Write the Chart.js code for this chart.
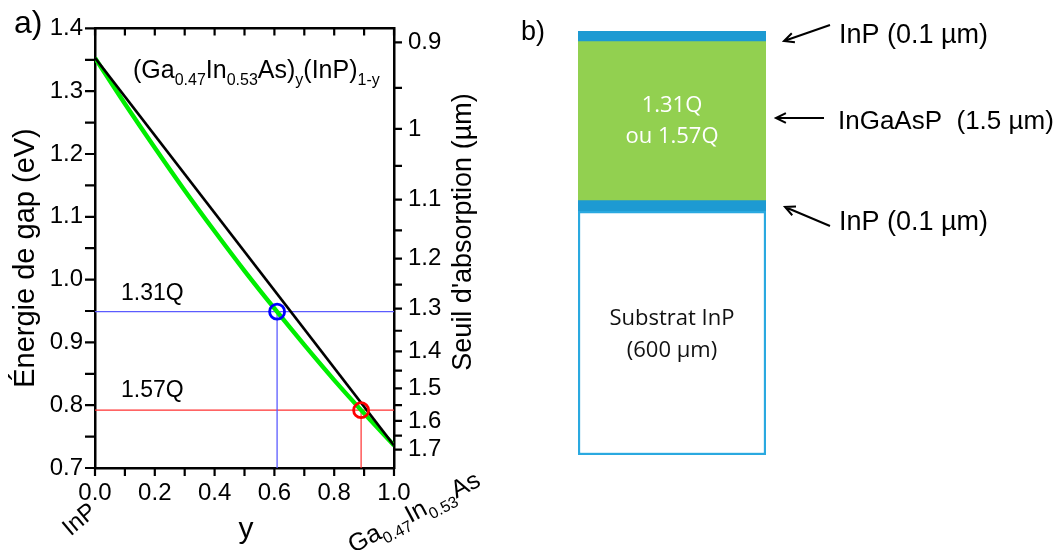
<!DOCTYPE html>
<html><head><meta charset="utf-8">
<script src="https://cdn.jsdelivr.net/npm/chart.js@4"></script>
<style>
html,body{margin:0;padding:0;background:#fff;}
#wrap{position:relative;width:1055px;height:550px;overflow:hidden;}
#ca{position:absolute;left:0;top:0;}
#cb{position:absolute;left:500px;top:0;}
</style></head><body>
<div id="wrap"><canvas id="ca" width="500" height="550"></canvas><canvas id="cb" width="555" height="550"></canvas></div>
<script>
// ---------- data (panel a) ----------
const compositionY = [0, 0.1, 0.2, 0.3, 0.4, 0.5, 0.6, 0.7, 0.8, 0.9, 1.0];
const gapBowed     = [1.353, 1.280, 1.210, 1.142, 1.077, 1.014, 0.954, 0.896, 0.840, 0.787, 0.736];
const compositionEnds = [0, 1];
const gapLinear       = [1.353, 0.736];
const q131 = [0.609, 0.949];   // [y, E] for 1.31Q
const q157 = [0.890, 0.792];   // [y, E] for 1.57Q
const xTickValues = [0, 0.2, 0.4, 0.6, 0.8, 1.0];
const xMinorValues = [0, 0.1, 0.2, 0.3, 0.4, 0.5, 0.6, 0.7, 0.8, 0.9, 1.0];
const energyTicks = [0.7, 0.8, 0.9, 1.0, 1.1, 1.2, 1.3, 1.4];
const energyMinor = [0.7, 0.75, 0.8, 0.85, 0.9, 0.95, 1.0, 1.05, 1.1, 1.15, 1.2, 1.25, 1.3, 1.35, 1.4];
const wavelengthTicks = [0.9, 1, 1.1, 1.2, 1.3, 1.4, 1.5, 1.6, 1.7];
const wavelengthMinor = [0.9, 0.95, 1, 1.05, 1.1, 1.15, 1.2, 1.25, 1.3, 1.35, 1.4, 1.45, 1.5, 1.55, 1.6, 1.65, 1.7];
const HC = 1.24; // eV·µm

// ---------- data (panel b) ----------
const layerNames = ['Substrat InP', 'InP', 'InGaAsP', 'InP'];
const layerThicknessUm = [600, 0.1, 1.5, 0.1];
const layerSchematic = [23, 1, 15, 1]; // drawn (not to scale) thickness units

const FONT = "'Liberation Sans', Arial, sans-serif";
const pts = (xs, ys) => xs.map((x, i) => ({x: x, y: ys[i]}));

function richText(ctx, parts, x, y, align) {
  let w = 0;
  parts.forEach(p => { ctx.font = p.s + 'px ' + FONT; w += ctx.measureText(p.t).width; });
  let cx = align === 'center' ? x - w / 2 : x;
  ctx.textAlign = 'left';
  ctx.textBaseline = 'alphabetic';
  parts.forEach(p => {
    ctx.font = p.s + 'px ' + FONT;
    ctx.fillText(p.t, cx, y + (p.dy || 0));
    cx += ctx.measureText(p.t).width;
  });
}

const annotA = {
  id: 'annotA',
  afterDraw(chart) {
    const ctx = chart.ctx, ca = chart.chartArea;
    const sx = chart.scales.x, sy = chart.scales.y, sy2 = chart.scales.y2;
    ctx.save();
    ctx.strokeStyle = '#000';
    ctx.lineWidth = 2.2;
    ctx.beginPath();
    xMinorValues.forEach(v => {
      const px = sx.getPixelForValue(v);
      ctx.moveTo(px, ca.bottom); ctx.lineTo(px, ca.bottom + 8);
      ctx.moveTo(px, ca.top); ctx.lineTo(px, ca.top + 7);
    });
    energyMinor.forEach(v => {
      const py = sy.getPixelForValue(v);
      ctx.moveTo(ca.left, py); ctx.lineTo(ca.left - 10, py);
    });
    wavelengthMinor.forEach(l => {
      const py = sy2.getPixelForValue(HC / l);
      ctx.moveTo(ca.right, py); ctx.lineTo(ca.right + 8, py);
    });
    ctx.stroke();

    ctx.fillStyle = '#000';
    // panel label
    ctx.font = '32px ' + FONT;
    ctx.textAlign = 'left'; ctx.textBaseline = 'alphabetic';
    ctx.fillText('a)', 14, 33);
    // formula
    richText(ctx, [
      {t: '(Ga', s: 25}, {t: '0.47', s: 16, dy: 7}, {t: 'In', s: 25}, {t: '0.53', s: 16, dy: 7},
      {t: 'As)', s: 25}, {t: 'y', s: 16, dy: 7}, {t: '(InP)', s: 25}, {t: '1-y', s: 16, dy: 7}
    ], 133, 78, 'left');
    // Q labels
    ctx.font = '23px ' + FONT;
    ctx.fillText('1.31Q', 121, 300);
    ctx.fillText('1.57Q', 121, 397);
    // axis titles
    ctx.save();
    ctx.translate(26, 258); ctx.rotate(-Math.PI / 2);
    ctx.font = '29px ' + FONT; ctx.textAlign = 'center'; ctx.textBaseline = 'middle';
    ctx.fillText('\u00c9nergie de gap (eV)', 0, 0);
    ctx.restore();
    ctx.save();
    ctx.translate(464, 232); ctx.rotate(-Math.PI / 2);
    ctx.font = '27px ' + FONT; ctx.textAlign = 'center'; ctx.textBaseline = 'middle';
    ctx.fillText("Seuil d'absorption (\u00b5m)", 0, 0);
    ctx.restore();
    ctx.font = '30px ' + FONT; ctx.textAlign = 'center'; ctx.textBaseline = 'middle';
    ctx.fillText('y', 246, 530);
    // endpoint labels
    ctx.save();
    ctx.translate(80, 520); ctx.rotate(-40 * Math.PI / 180);
    ctx.font = '24px ' + FONT; ctx.textAlign = 'center'; ctx.textBaseline = 'middle';
    ctx.fillText('InP', 0, 0);
    ctx.restore();
    ctx.save();
    ctx.translate(415, 514); ctx.rotate(-28 * Math.PI / 180);
    richText(ctx, [
      {t: 'Ga', s: 25}, {t: '0.47', s: 16, dy: 7}, {t: 'In', s: 25}, {t: '0.53', s: 16, dy: 7}, {t: 'As', s: 25}
    ], 0, 6, 'center');
    ctx.restore();
    ctx.restore();
  }
};

const tickFont = {family: FONT, size: 24};
const border = {display: true, color: '#000', width: 2.5};
const noGrid = {display: true, drawOnChartArea: false, drawTicks: false};

new Chart(document.getElementById('ca'), {
  type: 'scatter',
  data: {
    datasets: [
      {label: '1.31Q', data: pts([q131[0]], [q131[1]]), pointStyle: 'circle', pointRadius: 7.5,
       pointBorderWidth: 2.8, pointBorderColor: '#0000ff', pointBackgroundColor: 'rgba(0,0,0,0)', showLine: false, order: 0},
      {label: '1.57Q', data: pts([q157[0]], [q157[1]]), pointStyle: 'circle', pointRadius: 7.5,
       pointBorderWidth: 2.8, pointBorderColor: '#ff0000', pointBackgroundColor: 'rgba(0,0,0,0)', showLine: false, order: 0},
      {label: 'lineaire', data: pts(compositionEnds, gapLinear), showLine: true, borderColor: '#000',
       borderWidth: 2.6, pointRadius: 0, order: 1},
      {label: 'courbure', data: pts(compositionY, gapBowed), showLine: true, borderColor: '#00ee00',
       borderWidth: 4.4, pointRadius: 0, tension: 0.3, cubicInterpolationMode: 'monotone', order: 2},
      {label: 'h131', data: pts([0, 1], [q131[1], q131[1]]), showLine: true, borderColor: '#5b5bff', borderWidth: 1.3, pointRadius: 0, order: 3},
      {label: 'v131', data: pts([q131[0], q131[0]], [0.7, q131[1]]), showLine: true, borderColor: '#5b5bff', borderWidth: 1.3, pointRadius: 0, order: 3},
      {label: 'h157', data: pts([0, 1], [q157[1], q157[1]]), showLine: true, borderColor: '#ff3030', borderWidth: 1.2, pointRadius: 0, order: 3},
      {label: 'v157', data: pts([q157[0], q157[0]], [0.7, q157[1]]), showLine: true, borderColor: '#ff3030', borderWidth: 1.2, pointRadius: 0, order: 3}
    ]
  },
  options: {
    responsive: false, animation: false, devicePixelRatio: 1,
    layout: {padding: {left: 0, right: 26, top: 0, bottom: 0}},
    plugins: {legend: {display: false}, tooltip: {enabled: false}},
    scales: {
      x: {type: 'linear', position: 'bottom', min: 0, max: 1,
          afterBuildTicks: s => { s.ticks = xTickValues.map(v => ({value: v})); },
          ticks: {callback: v => Number(v).toFixed(1), font: tickFont, color: '#000', padding: 11, maxRotation: 0, autoSkip: false},
          grid: noGrid, border: border, afterFit: s => { s.height = 82; }},
      xTop: {type: 'linear', position: 'top', min: 0, max: 1,
          ticks: {display: false}, grid: noGrid, border: border, afterFit: s => { s.height = 18; }},
      y: {type: 'linear', position: 'left', min: 0.7, max: 1.4,
          afterBuildTicks: s => { s.ticks = energyTicks.map(v => ({value: v})); },
          ticks: {callback: v => Number(v).toFixed(1), font: tickFont, color: '#000', padding: 12, autoSkip: false},
          grid: noGrid, border: border, afterFit: s => { s.width = 95; }},
      y2: {type: 'linear', position: 'right', min: 0.7, max: 1.4,
          afterBuildTicks: s => { s.ticks = wavelengthTicks.map(l => ({value: HC / l})); },
          ticks: {callback: (v, i) => String(wavelengthTicks[i]), font: tickFont, color: '#000', padding: 14, autoSkip: false},
          grid: noGrid, border: border, afterFit: s => { s.width = 80; }}
    }
  },
  plugins: [annotA]
});

// ---------- panel b ----------
function arrow(ctx, x1, y1, x2, y2) {
  const a = Math.atan2(y2 - y1, x2 - x1), h = 11, sp = 0.45;
  ctx.beginPath();
  ctx.moveTo(x1, y1); ctx.lineTo(x2, y2);
  ctx.moveTo(x2 - h * Math.cos(a - sp), y2 - h * Math.sin(a - sp));
  ctx.lineTo(x2, y2);
  ctx.lineTo(x2 - h * Math.cos(a + sp), y2 - h * Math.sin(a + sp));
  ctx.stroke();
}

const annotB = {
  id: 'annotB',
  afterDraw(chart) {
    const ctx = chart.ctx, ca = chart.chartArea;
    const cx = (ca.left + ca.right) / 2;
    ctx.save();
    ctx.fillStyle = '#000';
    ctx.font = '27px ' + FONT; ctx.textAlign = 'left'; ctx.textBaseline = 'alphabetic';
    ctx.fillText('b)', 21, 40);
    // texts inside
    ctx.textAlign = 'center'; ctx.textBaseline = 'middle';
    ctx.font = "22px 'Open Sans', sans-serif";
    ctx.fillStyle = '#ffffff';
    ctx.fillText('1.31Q', cx, 106);
    ctx.fillText('ou 1.57Q', cx, 137);
    ctx.fillStyle = '#111';
    ctx.fillText('Substrat InP', cx, 319);
    ctx.fillText('(600 \u00b5m)', cx, 351);
    // arrows + labels
    ctx.strokeStyle = '#000'; ctx.lineWidth = 2;
    arrow(ctx, 330, 25, 284, 41);
    arrow(ctx, 324, 118, 276, 118);
    arrow(ctx, 330, 226, 285, 207);
    ctx.fillStyle = '#000';
    ctx.textAlign = 'left'; ctx.textBaseline = 'alphabetic';
    ctx.font = '27px ' + FONT;
    ctx.fillText('InP (0.1 \u00b5m)', 339, 43);
    ctx.fillText('InP (0.1 \u00b5m)', 339, 230);
    ctx.font = '26px ' + FONT;
    ctx.fillText('InGaAsP  (1.5 \u00b5m)', 338, 129);
    ctx.restore();
  }
};

const layerFill = ['#ffffff', '#1d9ad2', '#92d050', '#1d9ad2'];
const layerBorder = ['#2aa9e0', '#1688bd', '#86c447', '#1688bd'];
const layerBorderW = [2.5, 0, 0, 0];

new Chart(document.getElementById('cb'), {
  type: 'bar',
  data: {
    labels: ['couches'],
    datasets: layerNames.map((n, i) => ({
      label: n + ' (' + layerThicknessUm[i] + ' \u00b5m)', data: [layerSchematic[i]],
      backgroundColor: layerFill[i], borderColor: layerBorder[i], borderWidth: layerBorderW[i],
      borderSkipped: false, barPercentage: 1, categoryPercentage: 1
    }))
  },
  options: {
    responsive: false, animation: false, devicePixelRatio: 1,
    layout: {padding: {left: 78, right: 289, top: 31, bottom: 95}},
    plugins: {legend: {display: false}, tooltip: {enabled: false}},
    scales: {
      x: {display: false, stacked: true},
      y: {display: false, stacked: true, min: 0, max: 40}
    }
  },
  plugins: [annotB]
});
</script>
</body></html>
